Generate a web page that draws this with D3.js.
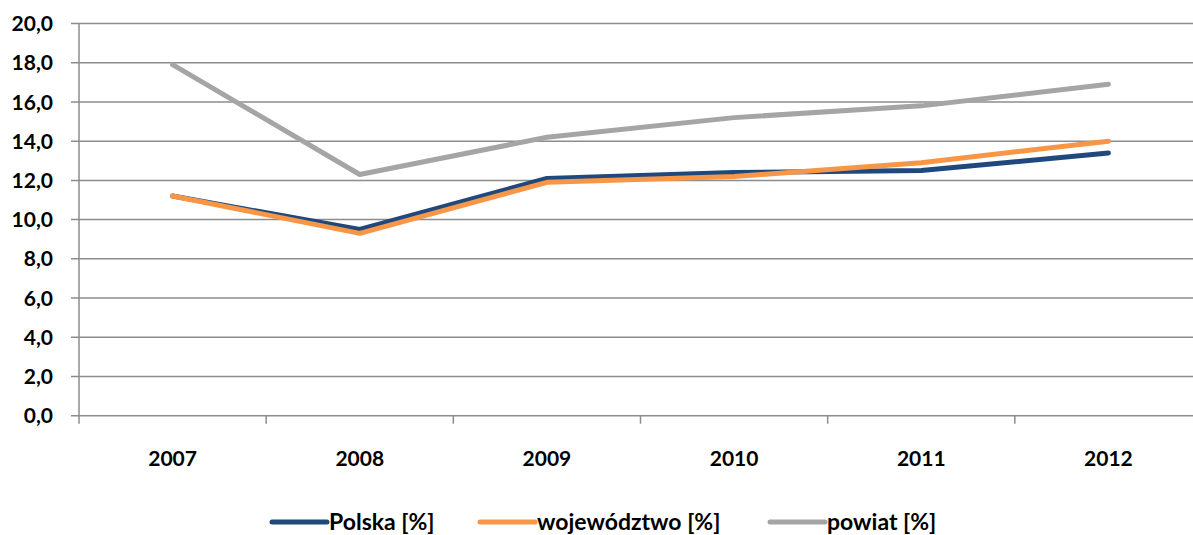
<!DOCTYPE html>
<html>
<head>
<meta charset="utf-8">
<script src="https://cdn.jsdelivr.net/npm/d3@7"></script>
<style>
  body { margin: 0; background: #fff; }
  svg text { font-family: Lato, "Open Sans", sans-serif; font-weight: bold; fill: #000; }
</style>
</head>
<body>
<svg id="chart" width="1193" height="535"></svg>
<script>
// data
const years = ['2007', '2008', '2009', '2010', '2011', '2012'];
const polska = [11.2, 9.5, 12.1, 12.4, 12.5, 13.4];
const wojewodztwo = [11.2, 9.3, 11.9, 12.2, 12.9, 14.0];
const powiat = [17.9, 12.3, 14.2, 15.2, 15.8, 16.9];
const yTicks = [0, 2, 4, 6, 8, 10, 12, 14, 16, 18, 20];

const series = [
  { name: 'Polska [%]', values: polska, color: '#1f497d' },
  { name: 'województwo [%]', values: wojewodztwo, color: '#f79646' },
  { name: 'powiat [%]', values: powiat, color: '#a5a5a5' }
];

const svg = d3.select('#chart');
const plotLeft = 79, plotRight = 1202, plotTop = 23.5, plotBottom = 415.7;

const x = d3.scaleBand().domain(years).range([plotLeft, plotRight]);
const y = d3.scaleLinear().domain([0, 20]).range([plotBottom, plotTop]);

// gridlines
svg.append('g')
  .selectAll('line')
  .data(yTicks)
  .join('line')
  .attr('x1', plotLeft - 8)
  .attr('x2', 1193)
  .attr('y1', d => y(d))
  .attr('y2', d => y(d))
  .attr('stroke', '#8c8c8c')
  .attr('stroke-width', 1.5);

// y axis line
svg.append('line')
  .attr('x1', plotLeft).attr('x2', plotLeft)
  .attr('y1', plotTop).attr('y2', plotBottom + 8)
  .attr('stroke', '#8c8c8c').attr('stroke-width', 1.5);

// x tick marks at category boundaries
svg.append('g')
  .selectAll('line')
  .data(years.slice(1))
  .join('line')
  .attr('x1', d => x(d)).attr('x2', d => x(d))
  .attr('y1', plotBottom).attr('y2', plotBottom + 8)
  .attr('stroke', '#8c8c8c').attr('stroke-width', 1.5);

// y labels
svg.append('g')
  .selectAll('text')
  .data(yTicks)
  .join('text')
  .attr('x', 53)
  .attr('y', d => y(d))
  .attr('dy', '0.36em')
  .attr('text-anchor', 'end')
  .style('font-size', '21px')
  .text(d => d.toFixed(1).replace('.', ','));

// x labels
svg.append('g')
  .selectAll('text')
  .data(years)
  .join('text')
  .attr('x', d => x(d) + x.bandwidth() / 2)
  .attr('y', 466)
  .attr('text-anchor', 'middle')
  .style('font-size', '21px')
  .text(d => d);

// lines
const line = d3.line()
  .x((d, i) => x(years[i]) + x.bandwidth() / 2)
  .y(d => y(d));

svg.append('g')
  .selectAll('path')
  .data(series)
  .join('path')
  .attr('d', d => line(d.values))
  .attr('fill', 'none')
  .attr('stroke', d => d.color)
  .attr('stroke-width', 5)
  .attr('stroke-linecap', 'round')
  .attr('stroke-linejoin', 'round');

// legend
const legendX = [272, 480, 770];
const legend = svg.append('g')
  .selectAll('g')
  .data(series)
  .join('g')
  .attr('transform', (d, i) => `translate(${legendX[i]},522)`);

legend.append('line')
  .attr('x1', 0).attr('x2', 55)
  .attr('stroke', d => d.color)
  .attr('stroke-width', 5)
  .attr('stroke-linecap', 'round');

legend.append('text')
  .attr('x', 57)
  .attr('dy', '0.36em')
  .style('font-size', '23px')
  .text(d => d.name);
</script>
</body>
</html>
